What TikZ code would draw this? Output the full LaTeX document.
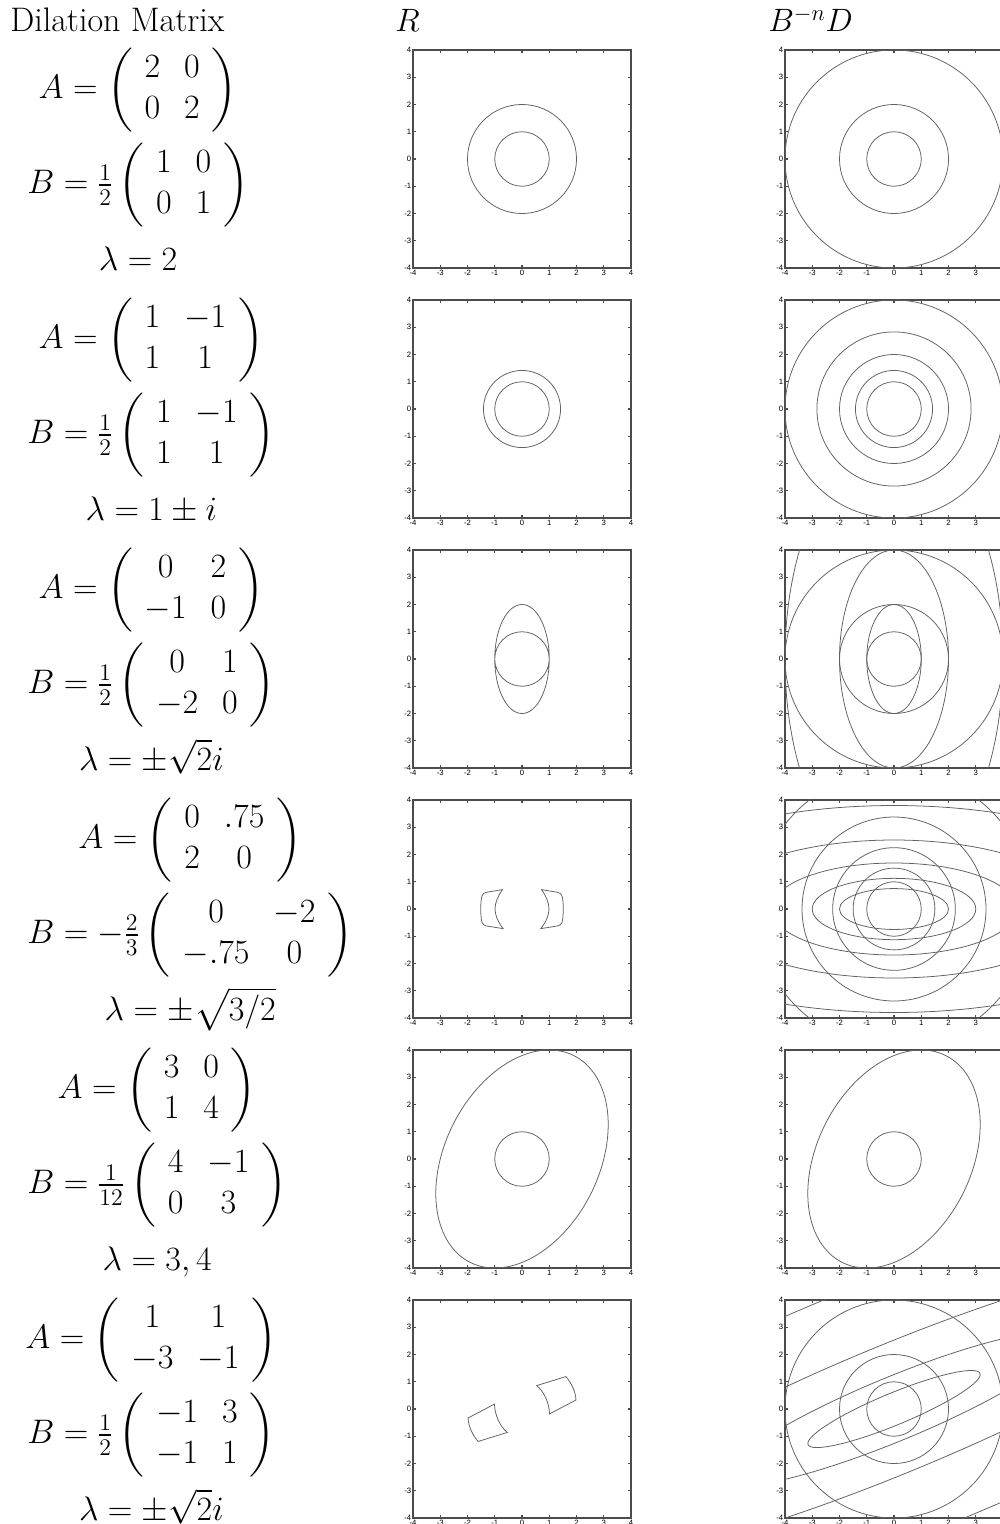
\RequirePackage{fix-cm}
\documentclass[tikz,border=0pt]{standalone}
\usepackage{amsmath}
\usepackage{fontspec}
\newfontfamily\tickfont{Liberation Sans}
\usetikzlibrary{positioning}

\newcommand{\plotunit}{0.68125cm}
\newcommand{\eqfont}{\fontsize{24.2}{29}\selectfont\arraycolsep=8.5pt}
% frame, ticks and tick labels of one plot, in plot units
\newcommand{\axisbox}[1][4]{%
  \draw[frame] (-4,-4) rectangle (4,4);
  \foreach \t in {-4,...,4} {
    \draw[frame] (\t,-4) -- ++(0,0.11) (\t,4) -- ++(0,-0.11)
                 (-4,\t) -- ++(0.11,0) (4,\t) -- ++(-0.11,0);
    \node[tick, left] (yl\t) at (-4,\t) {\t};
  }
  \foreach \t in {-4,...,#1} \node[tick, below] (xl\t) at (\t,-4) {\t};}

\begin{document}
\begin{tikzpicture}[x=0.025cm, y=-0.025cm,
  eq/.style={inner sep=0pt, font=\eqfont},
  hdr/.style={inner sep=0pt, anchor=base west, font=\eqfont},
  frame/.style={line width=0.8pt, black!70},
  curve/.style={line width=0.55pt, black!62},
  tick/.style={inner sep=1.1pt, font=\tickfont\fontsize{5.5}{6}\selectfont}]
\useasboundingbox (0,0) rectangle (999,1524);

% headings
\node[hdr] (h1) at (10,32) {Dilation Matrix};
\node[hdr, font=\fontsize{23}{27}\selectfont] (h2) at (395,32) {$R$};
\node[hdr, font=\fontsize{23}{27}\selectfont] (h3) at (768,32) {$B^{-n}D$};

% matrices, one row per dilation
\node[eq, anchor=west] (B1) at (27,185) {$B=\frac{1}{2}\left(\begin{array}{cc}1&0\\0&1\end{array}\right)$};
\node[eq] (A1) at (B1.center |- 0,90) {$A=\left(\begin{array}{cc}2&0\\0&2\end{array}\right)$};
\node[eq, anchor=base] (L1) at (B1.center |- 0,270) {$\lambda=2$};

\node[eq, anchor=west] (B2) at (27,435) {$B=\frac{1}{2}\left(\begin{array}{cc}1&-1\\1&1\end{array}\right)$};
\node[eq] (A2) at (B2.center |- 0,340) {$A=\left(\begin{array}{cc}1&-1\\1&1\end{array}\right)$};
\node[eq, anchor=base] (L2) at (B2.center |- 0,520) {$\lambda=1\pm i$};

\node[eq, anchor=west] (B3) at (27,685) {$B=\frac{1}{2}\left(\begin{array}{cc}0&1\\-2&0\end{array}\right)$};
\node[eq] (A3) at (B3.center |- 0,590) {$A=\left(\begin{array}{cc}0&2\\-1&0\end{array}\right)$};
\node[eq, anchor=base] (L3) at (B3.center |- 0,770) {$\lambda=\pm\sqrt{2}i$};

\node[eq, anchor=west] (B4) at (27,935) {$B=-\frac{2}{3}\left(\begin{array}{cc}0&-2\\-.75&0\end{array}\right)$};
\node[eq] (A4) at (B4.center |- 0,840) {$A=\left(\begin{array}{cc}0&.75\\2&0\end{array}\right)$};
\node[eq, anchor=base] (L4) at (B4.center |- 0,1020) {$\lambda=\pm\sqrt{3/2}$};

\node[eq, anchor=west] (B5) at (27,1185) {$B=\frac{1}{12}\left(\begin{array}{cc}4&-1\\0&3\end{array}\right)$};
\node[eq] (A5) at (B5.center |- 0,1090) {$A=\left(\begin{array}{cc}3&0\\1&4\end{array}\right)$};
\node[eq, anchor=base] (L5) at (B5.center |- 0,1270) {$\lambda=3,4$};

\node[eq, anchor=west] (B6) at (27,1435) {$B=\frac{1}{2}\left(\begin{array}{cc}-1&3\\-1&1\end{array}\right)$};
\node[eq] (A6) at (B6.center |- 0,1340) {$A=\left(\begin{array}{cc}1&1\\-3&-1\end{array}\right)$};
\node[eq, anchor=base] (L6) at (B6.center |- 0,1520) {$\lambda=\pm\sqrt{2}i$};

% row 1
\begin{scope}[shift={(522,159)}, x=\plotunit, y=\plotunit]
  \axisbox
  \draw[curve] (0,0) circle (1) (0,0) circle (2);
\end{scope}
\begin{scope}[shift={(894,159)}, x=\plotunit, y=\plotunit]
  \axisbox[3]
  \clip (-4,-4) rectangle (4,4);
  \foreach \r in {1,2,4} \draw[curve] (0,0) circle (\r);
\end{scope}

% row 2
\begin{scope}[shift={(522,409)}, x=\plotunit, y=\plotunit]
  \axisbox
  \draw[curve] (0,0) circle (1) (0,0) circle (1.4142);
\end{scope}
\begin{scope}[shift={(894,409)}, x=\plotunit, y=\plotunit]
  \axisbox[3]
  \clip (-4,-4) rectangle (4,4);
  \foreach \r in {1,1.4142,2,2.8284,4} \draw[curve] (0,0) circle (\r);
\end{scope}

% row 3
\begin{scope}[shift={(522,659)}, x=\plotunit, y=\plotunit]
  \axisbox
  \draw[curve] (0,0) circle (1) (0,0) ellipse [x radius=1, y radius=2];
\end{scope}
\begin{scope}[shift={(894,659)}, x=\plotunit, y=\plotunit]
  \axisbox[3]
  \clip (-4,-4) rectangle (4,4);
  \foreach \r in {1,2,4} {
    \draw[curve] (0,0) circle (\r);
    \draw[curve] (0,0) ellipse [x radius=\r, y radius=2*\r];
  }
\end{scope}

% row 4
\begin{scope}[shift={(522,909)}, x=\plotunit, y=\plotunit]
  \axisbox
  \foreach \s in {1,-1}
    \draw[curve, xscale=\s] (-0.72,0.71) -- (-1.32,0.61)
      .. controls (-1.46,0.58) and (-1.49,0.46) .. (-1.5,0.3)
      .. controls (-1.52,0.1) and (-1.52,-0.1) .. (-1.5,-0.3)
      .. controls (-1.49,-0.46) and (-1.46,-0.58) .. (-1.32,-0.62)
      -- (-0.69,-0.72)
      .. controls (-0.88,-0.48) and (-0.99,-0.22) .. (-0.99,0)
      .. controls (-0.99,0.24) and (-0.88,0.47) .. cycle;
\end{scope}
\begin{scope}[shift={(894,909)}, x=\plotunit, y=\plotunit]
  \axisbox[3]
  \clip (-4,-4) rectangle (4,4);
  \foreach \r in {1,1.5,2.25,3.375,5.0625} \draw[curve] (0,0) circle (\r);
  \foreach \a/\b in {2/0.75,3/1.125,4.5/1.6875,6.75/2.53125,10.125/3.796875}
    \draw[curve] (0,0) ellipse [x radius=\a, y radius=\b];
\end{scope}

% row 5
\begin{scope}[shift={(522,1159)}, x=\plotunit, y=\plotunit]
  \axisbox
  \draw[curve] (0,0) circle (1);
  \draw[curve, cm={3,0,1,4,(0,0)}] (0,0) circle (1);
\end{scope}
\begin{scope}[shift={(894,1159)}, x=\plotunit, y=\plotunit]
  \axisbox[3]
  \draw[curve] (0,0) circle (1);
  \draw[curve, cm={3,0,1,4,(0,0)}] (0,0) circle (1);
\end{scope}

% row 6
\begin{scope}[shift={(522,1409)}, x=\plotunit, y=\plotunit]
  \axisbox
  \foreach \s in {0,180}
    \draw[curve, rotate=\s] (0.54,0.86) -- (1.61,1.19)
      .. controls (1.82,0.95) and (1.97,0.62) .. (1.98,0.33)
      -- (1.01,-0.18)
      .. controls (1.0,0.22) and (0.82,0.62) .. cycle;
\end{scope}
\begin{scope}[shift={(894,1409)}, x=\plotunit, y=\plotunit]
  \axisbox[3]
  \clip (-4,-4) rectangle (4,4);
  \foreach \r in {1,2,4} {
    \draw[curve] (0,0) circle (\r);
    \draw[curve, rotate=22.5] (0,0) ellipse [x radius=3.4142*\r, y radius=0.5858*\r];
  }
  \draw[curve, rotate=22.5] (0,0) ellipse [x radius=27.3137, y radius=4.6863];
\end{scope}
\end{tikzpicture}
\end{document}
